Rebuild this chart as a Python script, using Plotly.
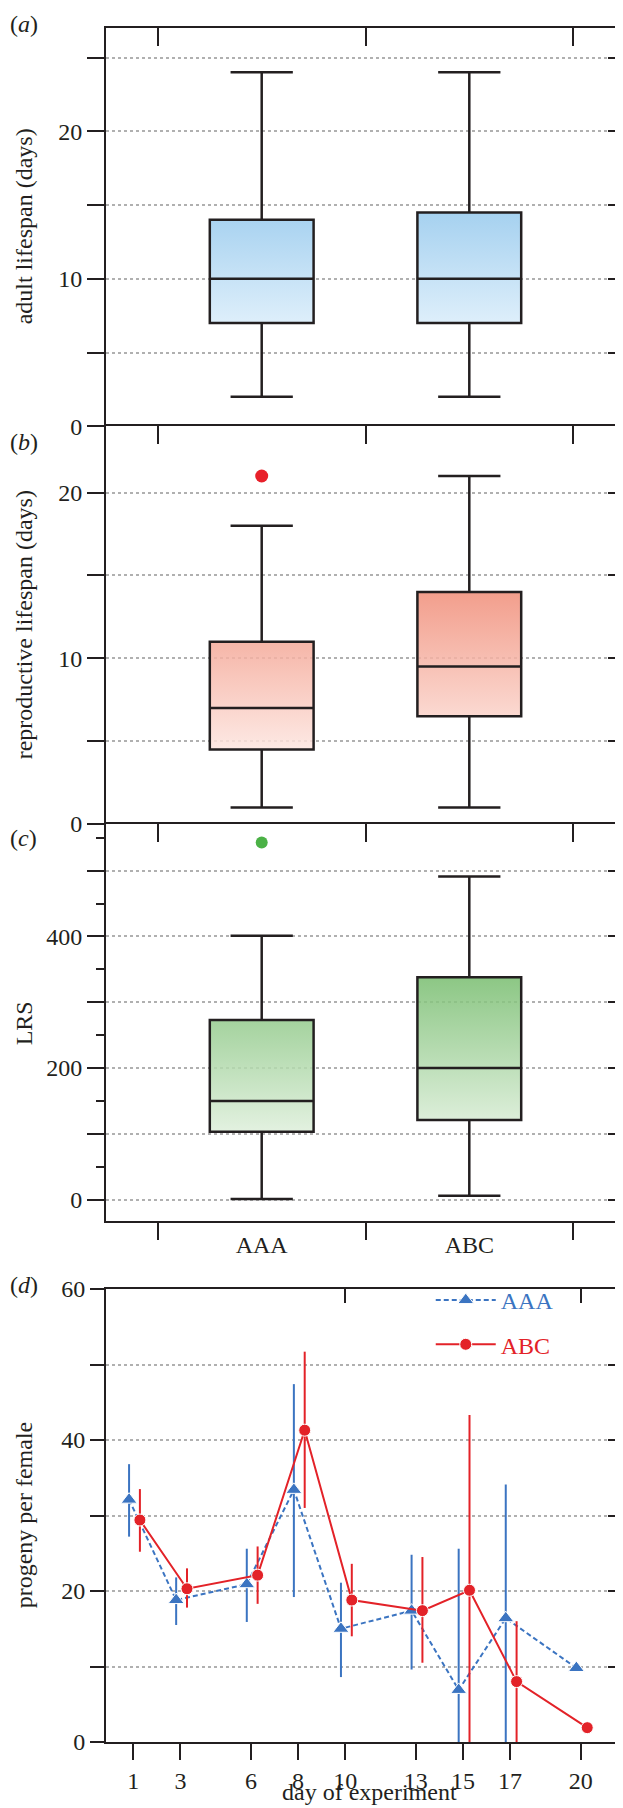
import plotly.graph_objects as go

# ---------------- data ----------------
groups = ["AAA", "ABC"]

# (a) adult lifespan (days)
adult_low = [2, 2]
adult_q1 = [7, 7]
adult_med = [10, 10]
adult_q3 = [14, 14.5]
adult_high = [24, 24]

# (b) reproductive lifespan (days)
repro_low = [1, 1]
repro_q1 = [4.5, 6.5]
repro_med = [7, 9.5]
repro_q3 = [11, 14]
repro_high = [18, 21]
repro_outlier_group = ["AAA"]
repro_outlier_value = [21]

# (c) LRS
lrs_low = [1, 6]
lrs_q1 = [103, 121]
lrs_med = [150, 200]
lrs_q3 = [273, 338]
lrs_high = [401, 491]
lrs_outlier_group = ["AAA"]
lrs_outlier_value = [543]

# (d) progeny per female
days = [1, 3, 6, 8, 10, 13, 15, 17, 20]
aaa_mean = [32.1, 18.8, 20.9, 33.4, 15.0, 17.4, 6.9, 16.4, 9.8]
aaa_upper = [36.8, 21.8, 25.6, 47.4, 21.1, 24.8, 25.6, 34.1, 9.8]
aaa_lower = [27.2, 15.5, 15.9, 19.2, 8.6, 9.6, 0.0, 0.0, 9.8]
abc_mean = [29.4, 20.3, 22.1, 41.3, 18.8, 17.4, 20.1, 8.0, 1.9]
abc_upper = [33.5, 23.0, 25.9, 51.7, 23.6, 24.5, 43.3, 16.0, 1.9]
abc_lower = [25.2, 17.8, 18.3, 31.0, 14.0, 10.5, 0.0, 0.0, 1.9]

# ---------------- style ----------------
FONT = "Liberation Serif"
INK = "#231f20"
BLUE = "#3b74c1"
RED = "#e32228"
GRID = "#b0b0b0"
BOX_W = 0.5
FW, FH = 623, 1808
L, R, T, B = 98, 4, 20, 74
PW, PH = FW - L - R, FH - T - B


def px_x(p):
    return (p - L) / PW


def px_y(p):
    return (FH - B - p) / PH


pos = list(range(len(groups)))
fig = go.Figure()


def rgba(hexcol, a=0.85):
    h = hexcol.lstrip("#")
    c = [int(h[i:i + 2], 16) for i in (0, 2, 4)]
    s = [max(0, min(255, round((v - (1 - a) * 255) / a))) for v in c]
    return f"rgba({s[0]},{s[1]},{s[2]},{a})"


def add_box_panel(xa, ya_fill, ya_box, low, q1, med, q3, high, light, dark):
    lo_all, hi_all = min(q1), max(q3)
    for i in pos:
        h = BOX_W / 2
        fig.add_trace(go.Scatter(
            x=[i - h, i + h, i + h, i - h, i - h],
            y=[q1[i], q1[i], q3[i], q3[i], q1[i]],
            mode="lines", line=dict(width=0), fill="toself",
            fillgradient=dict(type="vertical",
                              colorscale=[[0, rgba(light)], [1, rgba(dark)]],
                              start=lo_all, stop=hi_all),
            xaxis=xa, yaxis=ya_fill, showlegend=False, hoverinfo="skip"))
    fig.add_trace(go.Box(
        x=pos, q1=q1, median=med, q3=q3, lowerfence=low, upperfence=high,
        width=BOX_W, whiskerwidth=0.6, fillcolor="rgba(0,0,0,0)",
        line=dict(color=INK, width=2.5), boxpoints=False,
        xaxis=xa, yaxis=ya_box, showlegend=False, hoverinfo="skip"))


add_box_panel("x", "y", "y5", adult_low, adult_q1, adult_med, adult_q3, adult_high,
              "#deeffb", "#a6d1f0")
add_box_panel("x2", "y2", "y6", repro_low, repro_q1, repro_med, repro_q3, repro_high,
              "#fde9e4", "#f29e8c")
add_box_panel("x3", "y3", "y7", lrs_low, lrs_q1, lrs_med, lrs_q3, lrs_high,
              "#e3f1e0", "#8cc785")

fig.add_trace(go.Scatter(
    x=[groups.index(g) for g in repro_outlier_group], y=repro_outlier_value,
    mode="markers", marker=dict(color="#e8202a", size=13),
    xaxis="x2", yaxis="y6", showlegend=False, hoverinfo="skip"))
fig.add_trace(go.Scatter(
    x=[groups.index(g) for g in lrs_outlier_group], y=lrs_outlier_value,
    mode="markers", marker=dict(color="#4bb146", size=12),
    xaxis="x3", yaxis="y7", showlegend=False, hoverinfo="skip"))

# dummy traces so overlay axes get drawn
for xa, ya in [("x5", "y3"), ("x6", "y3"), ("x7", "y4"), ("x4", "y8")]:
    fig.add_trace(go.Scatter(x=[None], y=[None], xaxis=xa, yaxis=ya,
                             showlegend=False, hoverinfo="skip"))

# panel d
dodge = {"AAA": -0.18, "ABC": 0.28}
series = [
    ("AAA", aaa_mean, aaa_upper, aaa_lower, BLUE, "triangle-up", 14, "5px,3px"),
    ("ABC", abc_mean, abc_upper, abc_lower, RED, "circle", 12, "solid"),
]
for name, mean, up, lo, col, sym, size, dash in series:
    fig.add_trace(go.Scatter(
        x=[d + dodge[name] for d in days], y=mean,
        mode="lines+markers",
        name=f'<span style="color:{col}">{name}</span>',
        legendgroup=name,
        line=dict(color=col, width=2, dash=dash),
        marker=dict(symbol=sym, size=size, color=col,
                    line=dict(color="white", width=1)),
        error_y=dict(type="data", symmetric=False,
                     array=[u - m for u, m in zip(up, mean)],
                     arrayminus=[m - l for m, l in zip(mean, lo)],
                     color=col, thickness=2, width=0),
        xaxis="x4", yaxis="y4", hoverinfo="skip"))

# ---------------- axes ----------------
tickfont = dict(family=FONT, size=24, color=INK)
frame = dict(showline=True, linecolor=INK, linewidth=2, mirror=True,
             showgrid=False, zeroline=False, tickcolor=INK, tickwidth=2,
             tickfont=tickfont)
topx = dict(showline=True, linecolor=INK, linewidth=2, mirror=False,
            showgrid=False, zeroline=False, tickcolor=INK, tickwidth=2,
            side="top", ticks="inside", ticklen=18, showticklabels=False)
grid = dict(showgrid=True, gridcolor=GRID, gridwidth=1.5, griddash="3px,3px",
            showline=False, zeroline=False, showticklabels=False,
            ticks="inside", tickcolor=INK, tickwidth=2, side="right")

dom_a = [px_y(418.3), 1.0]
dom_b = [px_y(816), px_y(418.3)]
dom_c = [px_y(1213.3), px_y(816)]
dom_d = [0.0, px_y(1281)]
cat_range = [-0.75, 1.75]
cat_ticks = [-0.5, 0.5, 1.5]

layout = dict(
    width=FW, height=FH, margin=dict(l=L, r=R, t=T, b=B),
    plot_bgcolor="white", paper_bgcolor="white",
    font=dict(family=FONT, size=24, color=INK),
    showlegend=True,
    boxmode="overlay",
    # panel a
    xaxis=dict(topx, domain=[0, 1], anchor="y", range=cat_range, tickvals=cat_ticks),
    yaxis=dict(frame, domain=dom_a, anchor="x", range=[0, 27],
               tickvals=[0, 5, 10, 15, 20, 25], ticktext=["0", "", "10", "", "20", ""],
               ticks="outside", ticklen=17),
    yaxis5=dict(grid, overlaying="y", anchor="x", range=[0, 27],
                tickvals=[5, 10, 15, 20, 25], ticklen=17),
    # panel b
    xaxis2=dict(topx, domain=[0, 1], anchor="y2", range=cat_range, tickvals=cat_ticks),
    yaxis2=dict(frame, domain=dom_b, anchor="x2", range=[0, 24],
                tickvals=[0, 5, 10, 15, 20], ticktext=["0", "", "10", "", "20"],
                ticks="outside", ticklen=17),
    yaxis6=dict(grid, overlaying="y2", anchor="x2", range=[0, 24],
                tickvals=[5, 10, 15, 20], ticklen=17),
    # panel c
    xaxis3=dict(topx, domain=[0, 1], anchor="y3", range=cat_range, tickvals=cat_ticks),
    xaxis5=dict(overlaying="x3", anchor="y3", side="bottom", range=cat_range,
                tickvals=cat_ticks, ticks="outside", ticklen=17, tickwidth=2,
                tickcolor=INK, showticklabels=False, showline=True,
                linecolor=INK, linewidth=2, showgrid=False, zeroline=False),
    xaxis6=dict(overlaying="x3", anchor="y3", side="bottom", range=cat_range,
                tickvals=pos, ticktext=groups, ticks="outside", ticklen=2,
                tickcolor="rgba(0,0,0,0)", tickfont=tickfont, showline=False,
                showgrid=False, zeroline=False),
    yaxis3=dict(frame, domain=dom_c, anchor="x3", range=[-33, 571],
                tickvals=[0, 100, 200, 300, 400, 500],
                ticktext=["0", "", "200", "", "400", ""],
                ticks="outside", ticklen=17,
                minor=dict(tickvals=[50, 150, 250, 350, 450, 550], ticks="outside",
                           ticklen=8, tickwidth=2, tickcolor=INK, showgrid=False)),
    yaxis7=dict(grid, overlaying="y3", anchor="x3", range=[-33, 571],
                tickvals=[0, 100, 200, 300, 400, 500], ticklen=17),
    # panel d
    xaxis4=dict(frame, domain=[0, px_x(617)], anchor="y4", side="bottom",
                range=[-0.16, 21.8], tickvals=days, ticks="outside", ticklen=16,
                ticklabelstandoff=0),
    xaxis7=dict(overlaying="x4", anchor="y4", side="top", range=[-0.16, 21.8],
                tickvals=[10, 20], ticks="inside", ticklen=14, tickwidth=2,
                tickcolor=INK, showticklabels=False, showline=False,
                showgrid=False, zeroline=False),
    yaxis4=dict(frame, domain=dom_d, anchor="x4", range=[0, 60],
                tickvals=[0, 10, 20, 30, 40, 50, 60],
                ticktext=["0", "", "20", "", "40", "", "60"],
                ticks="outside", ticklen=14),
    yaxis8=dict(grid, overlaying="y4", anchor="x4", range=[0, 60],
                tickvals=[10, 20, 30, 40, 50], ticklen=15),
    legend=dict(x=px_x(424), y=px_y(1270), xanchor="left", yanchor="top",
                bgcolor="rgba(0,0,0,0)", font=dict(family=FONT, size=24),
                traceorder="grouped", tracegroupgap=10, itemwidth=60),
)
fig.update_layout(**layout)

# ---------------- text ----------------
ann = []
for txt, yc in [("adult lifespan (days)", 218), ("reproductive lifespan (days)", 617),
                ("LRS", 1015), ("progeny per female", 1507)]:
    ann.append(dict(text=txt, x=px_x(16), y=px_y(yc), xref="paper", yref="paper",
                    xanchor="center", yanchor="middle", textangle=-90,
                    showarrow=False, font=dict(family=FONT, size=24, color=INK)))
for txt, yc in [("(<i>a</i>)", 16), ("(<i>b</i>)", 434), ("(<i>c</i>)", 830),
                ("(<i>d</i>)", 1277)]:
    ann.append(dict(text=txt, x=px_x(0), y=px_y(yc), xref="paper", yref="paper",
                    xanchor="left", yanchor="middle", showarrow=False,
                    font=dict(family=FONT, size=24, color=INK)))
ann.append(dict(text="day of experiment", x=px_x(363), y=px_y(1799), xref="paper",
                yref="paper", xanchor="center", yanchor="bottom", showarrow=False,
                font=dict(family=FONT, size=24, color=INK)))
fig.update_layout(annotations=ann)

fig.write_html("out.html")
